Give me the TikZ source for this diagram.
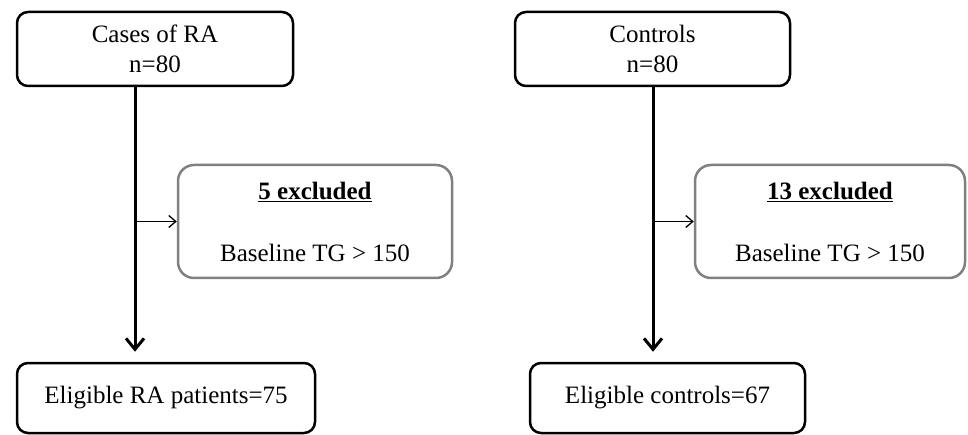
\documentclass[tikz,border=0pt]{standalone}
\usepackage{fontspec}
\setmainfont{Liberation Serif}
\usetikzlibrary{arrows.meta}

\tikzset{
  caja/.style={draw=black, line width=2.5pt, rounded corners=11pt, align=center,
    inner sep=0pt, minimum height=74pt, font=\fontsize{25}{30}\selectfont},
  excl/.style={draw=black!50, line width=2.5pt, rounded corners=16pt, align=center,
    inner sep=0pt, minimum height=113pt, font=\fontsize{25}{30}\selectfont},
  flujo/.style={line width=3pt, -{Straight Barb[length=11pt,width=18pt,line width=3pt]}},
  rama/.style={line width=1.3pt, -{Straight Barb[length=7pt,width=12pt,line width=1.3pt]}}
}

\begin{document}
\begin{tikzpicture}[x=1pt, y=-1pt]
    \useasboundingbox (0,0) rectangle (968,435);

    % Cajas superiores
    \node[caja, minimum width=276pt] (casos) at (155,49) {Cases of RA\\n=80};
    \node[caja, minimum width=275pt] (controles) at (652.5,49) {Controls\\n=80};

    % Cajas de exclusion
    \node[excl, minimum width=274pt] (exclA) at (315,221.5)
        {\underline{\textbf{5 excluded}}\\[32pt]Baseline TG > 150};
    \node[excl, minimum width=270pt] (exclB) at (830,221.5)
        {\underline{\textbf{13 excluded}}\\[32pt]Baseline TG > 150};

    % Cajas inferiores
    \node[caja, minimum width=298pt, minimum height=70pt] (elegA) at (166,398) {Eligible RA patients=75};
    \node[caja, minimum width=275pt, minimum height=70pt] (elegB) at (667.5,398) {Eligible controls=67};

    % Puntos de ramificacion
    \coordinate (ramaA) at (135,221.5);
    \coordinate (ramaB) at (653,221.5);

    % Flechas principales
    \draw[flujo, shorten >=10pt] (casos.south -| ramaA) -- (elegA.north -| ramaA);
    \draw[flujo, shorten >=10pt] (controles.south -| ramaB) -- (elegB.north -| ramaB);

    % Flechas hacia las exclusiones
    \draw[rama] (ramaA) -- (exclA.west);
    \draw[rama] (ramaB) -- (exclB.west);
\end{tikzpicture}
\end{document}
